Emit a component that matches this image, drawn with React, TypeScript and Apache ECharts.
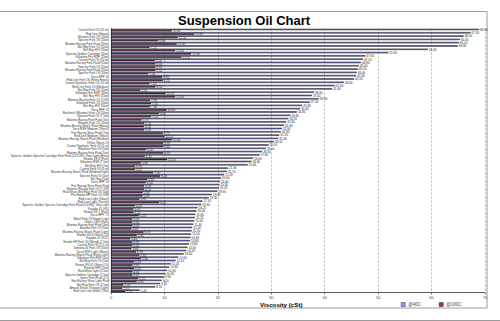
import React, { useEffect, useRef } from "react";
import * as echarts from "echarts";

const categories: string[] = [
  "Castrol Fork Oil (20 wt)",
  "Red Line (Heavy)",
  "Maxima Fork Oil (15wt)",
  "Spectro Fork Oil (20wt)",
  "Maxima Racing Fork Fluid (20wt)",
  "Bel-Ray Fork Oil (15wt)",
  "Bel-Ray HVI (20wt)",
  "Spectro Golden Cartridge (20wt)",
  "Silkolene Pro RSF (15wt)",
  "Castrol Fork Oil (10 wt)",
  "Maxima Racing Fork Fluid (15wt)",
  "Spectro Fork Oil (15wt)",
  "Maxima Racing Fork Fluid (10wt)",
  "Spectro Fork Oil (10wt)",
  "Torco RFF 20",
  "Red Line Fork Oil (Extra Heavy)",
  "Castrol Synthetic Fork Oil (10 wt)",
  "Red Line Fork Oil (Medium)",
  "Bel-Ray Fork Oil (10wt)",
  "Silkolene Pro RSF (10wt)",
  "Bel-Ray HVI (15wt)",
  "Motorex Racing Fork Oil (15W)",
  "Silkolene Fork Oil (10wt)",
  "Bel-Ray HVI (10wt)",
  "Torco RFF 15",
  "Rocktech (Maxima) Fork Oil (10wt)",
  "Spectro Fork Oil (7.5wt)",
  "Maxima Racing Fork Fluid (7wt)",
  "Maxima Fork Oil (10wt)",
  "Maxima Racing Shock Fluid (Heavy)",
  "Torco RSF Medium (Shock)",
  "Fox Racing Shox Fluid (7wt)",
  "Red Line Medium (Shock)",
  "Maxima Racing Shock Fluid (Medium)",
  "Ohlins Shock Oil",
  "Castrol Synthetic Fork Oil (5 wt)",
  "Silkolene Fork Oil (5wt)",
  "Maxima Racing Fork Fluid (5wt)",
  "Spectro, Golden Spectro Cartridge Fork Fluid (10/15W), Very Light (Extra)",
  "Showa SS-8 (Fork)",
  "Silkolene RSF (7.5wt)",
  "Bel-Ray HVI (7wt)",
  "Castrol Fork Oil (5 wt)",
  "Maxima Racing Shock Fluid (Medium/Light)",
  "Spectro Fork Oil (5wt)",
  "Bel-Ray (5wt)",
  "Torco RFF 10",
  "Fox Racing Shox Float Fluid",
  "Motorex Racing Fork Oil (7.5W)",
  "RockShox (Bel-Ray) Fork Oil (5wt)",
  "Pro Honda HP Fork Oil (5W)",
  "Red Line Light (Shock)",
  "Red Line Light (Tensile)",
  "Spectro, Golden Spectro Cartridge Fork Fluid (5/10W), Very Light",
  "Kayaba 01 (G5)",
  "Showa SS-7 (Fork)",
  "Torco RFF 7.5",
  "Motul Fork Oil Expert Light",
  "Ohlins 1309 (Fork)",
  "Maxima Racing Fork Fluid (3wt)",
  "Maxima Fork Oil (5wt)",
  "Maxima Racing Shock Fluid (Light)",
  "Honda SS-8 (Shock Oil)",
  "Kayaba 01 (K2C)",
  "Honda HP Fork Oil (Blend) (7.5wt)",
  "Castrol Fork Oil (2.5 wt)",
  "Yamaha 01 Fork Oil (10wt)",
  "Torco RSF Light (Shock)",
  "Maxima Racing Shock Fluid (Extra Light)",
  "Silkolene Pro RSF (5wt)",
  "Bel-Ray Fork Oil (5wt)",
  "Showa SS-05 (Shock Oil)",
  "Putoline HPX (5wt)",
  "RockShox Light (2.5wt)",
  "Spectro Golden Cartridge (2.5wt)",
  "Ipone Fork Fluid (2.5)",
  "Fox Racing Shox Light Fluid",
  "Bel-Ray Fork Oil (2.5wt)",
  "Amsoil Shock Therapy (Light)",
  "Red Line Like Water (Thin)",
];

const visc40: number[] = [
  68.9, 67.3, 66.0, 65.3, 65.1, 64.9, 59.3, 51.9, 47.6, 47.2,
  46.8, 46.4, 46.2, 46.0, 45.9, 45.5, 43.6, 41.9, 41.4, 38.0,
  37.6, 38.9, 37.2, 35.8, 35.4, 34.8, 33.6, 33.2, 32.8, 32.4,
  32.0, 31.8, 31.5, 31.3, 30.5, 29.5, 29.0, 28.3, 27.8, 26.6,
  26.3, 25.6, 21.9, 21.7, 21.2, 20.6, 20.4, 20.3, 20.2, 19.9,
  18.9, 18.3, 17.1, 16.9, 16.2, 16.0, 15.8, 15.7, 15.6, 15.4,
  15.2, 15.1, 15.0, 14.9, 14.8, 14.6, 14.3, 14.1, 13.6, 12.6,
  12.1, 11.2, 10.9, 10.5, 10.2, 9.9, 9.5, 9.2, 8.3, 5.4,
];

const visc100: number[] = [
  11.4, 15.6, 12.5, 8.8, 12.3, 7.2, 12.0, 15.0, 13.2, 8.2,
  8.3, 8.3, 8.3, 7.0, 9.6, 9.7, 7.2, 8.3, 5.5, 10.2,
  12.0, 7.3, 7.5, 7.3, 10.4, 9.0, 7.5, 5.7, 6.2, 6.2,
  6.2, 9.7, 10.0, 11.4, 9.8, 9.8, 6.5, 9.8, 6.3, 10.5,
  5.6, 4.5, 4.5, 7.9, 9.2, 6.8, 6.5, 6.2, 6.2, 5.9,
  5.9, 5.3, 9.0, 4.5, 4.2, 4.2, 5.2, 4.0, 4.0, 4.0,
  3.8, 6.1, 4.8, 3.6, 4.0, 4.0, 3.8, 4.7, 5.3, 5.6,
  4.3, 4.0, 4.3, 4.0, 4.0, 5.1, 4.8, 2.3, 2.1, 2.7,
];

const seriesNames: string[] = ["@40C", "@100C"];
const xTicks: number[] = [0, 10, 20, 30, 40, 50, 60, 70];

const FONT = "Liberation Sans, Arial, sans-serif";

export default function App() {
  const ref = useRef<HTMLDivElement>(null);
  useEffect(() => {
    if (!ref.current) return;
    const chart = echarts.init(ref.current, undefined, { renderer: "svg" });
    const labelCfg = {
      show: true,
      position: "right" as const,
      distance: 1,
      fontSize: 3,
      color: "#222",
      fontFamily: FONT,
      formatter: (p: any) => Number(p.value).toFixed(2),
    };
    chart.setOption({
      animation: false,
      backgroundColor: "#ffffff",
      textStyle: { fontFamily: FONT },
      title: {
        text: "Suspension Oil Chart",
        left: 178,
        top: 14,
        padding: 0,
        textStyle: { fontSize: 13, fontWeight: "bold", color: "#000", fontFamily: FONT },
      },
      legend: {
        data: seriesNames,
        left: 401,
        top: 302,
        padding: 0,
        itemWidth: 4,
        itemHeight: 4,
        itemGap: 18,
        icon: "rect",
        itemStyle: { borderWidth: 0.4, borderColor: "#000" },
        textStyle: { fontSize: 4.5, color: "#444", fontFamily: FONT, padding: [0, 0, 0, -2] },
      },
      grid: { left: 111, right: 15, top: 28.5, bottom: 28.5, containLabel: false },
      xAxis: {
        type: "value",
        min: xTicks[0],
        max: xTicks[xTicks.length - 1],
        interval: 10,
        axisLine: { show: true, lineStyle: { color: "#333", width: 0.8 } },
        axisTick: { show: true, length: 2, lineStyle: { color: "#333", width: 0.6 } },
        axisLabel: { fontSize: 4, color: "#444", margin: 3, fontFamily: FONT },
        splitLine: { show: true, lineStyle: { color: "#888", type: [2, 2], width: 0.6 } },
      },
      yAxis: {
        type: "category",
        data: categories,
        inverse: true,
        axisLine: { show: true, lineStyle: { color: "#333", width: 0.8 } },
        axisTick: { show: false },
        axisLabel: { interval: 0, fontSize: 3, color: "#333", margin: 2, fontFamily: FONT },
        splitLine: { show: false },
      },
      series: [
        {
          name: seriesNames[0],
          type: "bar",
          data: visc40,
          barGap: "0%",
          barCategoryGap: "20%",
          itemStyle: { color: "#9999ff", borderColor: "#000", borderWidth: 0.5 },
          label: labelCfg,
        },
        {
          name: seriesNames[1],
          type: "bar",
          data: visc100,
          barGap: "0%",
          barCategoryGap: "20%",
          itemStyle: { color: "#993366", borderColor: "#000", borderWidth: 0.5 },
          label: labelCfg,
        },
      ],
      graphic: [
        {
          type: "rect",
          silent: true,
          shape: { x: -1, y: 11.5, width: 488, height: 296.5 },
          style: { fill: "none", stroke: "#9a9a9a", lineWidth: 1 },
        },
        {
          type: "line",
          silent: true,
          shape: { x1: 0, y1: 320.5, x2: 500, y2: 320.5 },
          style: { stroke: "#9a9a9a", lineWidth: 1 },
        },
        {
          type: "text",
          silent: true,
          x: 260,
          y: 301,
          style: {
            text: "Viscosity (cSt)",
            fontSize: 6.2,
            fontWeight: "bold",
            fill: "#000",
            fontFamily: FONT,
          },
        },
      ],
    });
    return () => chart.dispose();
  }, []);
  return (
    <div
      ref={ref}
      style={{ position: "absolute", left: 0, top: 0, width: 500, height: 321 }}
    />
  );
}
